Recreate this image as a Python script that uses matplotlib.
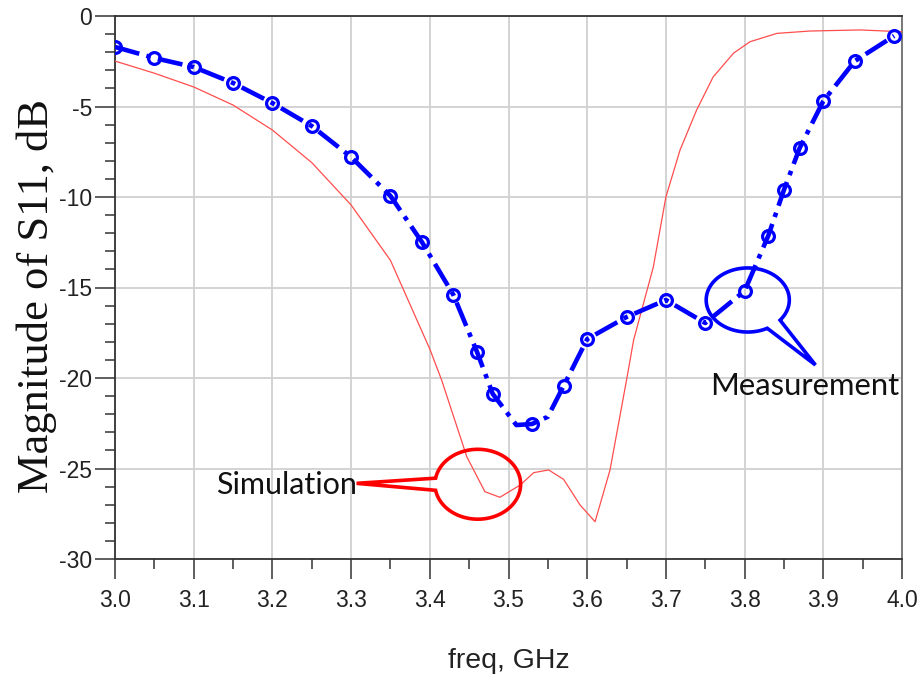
import numpy as np
import matplotlib
matplotlib.use("Agg")
import matplotlib.pyplot as plt
from matplotlib.path import Path
from matplotlib.patches import PathPatch
from matplotlib.ticker import MultipleLocator

plt.rcParams['axes.unicode_minus'] = False

# ---------------- data ----------------
# Measurement (blue, dash-dot with circle markers)
meas_freq = [3.00, 3.05, 3.10, 3.15, 3.20, 3.25, 3.30, 3.35, 3.39, 3.43,
             3.46, 3.48, 3.51, 3.53, 3.55, 3.57, 3.60, 3.65, 3.70, 3.75,
             3.80, 3.83, 3.85, 3.87, 3.90, 3.94, 3.99]
meas_s11 = [-1.71, -2.32, -2.82, -3.70, -4.81, -6.08, -7.79, -9.94, -12.49, -15.41,
            -18.56, -20.88, -22.60, -22.54, -22.14, -20.44, -17.85, -16.63, -15.69, -16.96,
            -15.19, -12.15, -9.61, -7.29, -4.70, -2.49, -1.10]
meas_has_marker = [1, 1, 1, 1, 1, 1, 1, 1, 1, 1,
                   1, 1, 0, 1, 0, 1, 1, 1, 1, 1,
                   1, 1, 1, 1, 1, 1, 1]

# Simulation (red thin line)
sim_freq = [3.00, 3.05, 3.10, 3.15, 3.20, 3.25, 3.30, 3.35, 3.40, 3.415,
            3.447, 3.470, 3.489, 3.515, 3.532, 3.551, 3.570, 3.591, 3.610, 3.629,
            3.650, 3.659, 3.684, 3.700, 3.718, 3.739, 3.760, 3.786, 3.807, 3.841,
            3.883, 3.947, 4.00]
sim_s11 = [-2.49, -3.16, -3.92, -4.92, -6.30, -8.10, -10.44, -13.50, -18.40, -20.11,
           -24.35, -26.28, -26.59, -25.91, -25.23, -25.08, -25.60, -27.02, -27.94, -25.08,
           -20.11, -17.90, -13.87, -10.00, -7.40, -5.20, -3.37, -2.05, -1.42, -0.96,
           -0.83, -0.77, -0.87]

x_ticks = [3.0, 3.1, 3.2, 3.3, 3.4, 3.5, 3.6, 3.7, 3.8, 3.9, 4.0]
y_ticks = [0, -5, -10, -15, -20, -25, -30]

# ---------------- figure ----------------
W, H = 922, 680
fig = plt.figure(figsize=(W / 100, H / 100), dpi=100)
ax = fig.add_axes([115 / W, 1 - 559 / H, (902 - 115) / W, (559 - 16) / H])

ax.set_xlim(3.0, 4.0)
ax.set_ylim(-30, 0)

ax.grid(True, which='major', color='#d0d0d0', linewidth=1.3, zorder=0)
ax.set_axisbelow(True)

ax.plot(sim_freq, sim_s11, color='#ff4d4d', linewidth=0.9, zorder=3)

mark_idx = [i for i, m in enumerate(meas_has_marker) if m]
ax.plot(meas_freq, meas_s11, color='#0000ff', linewidth=3.3,
        linestyle=(0, (5.5, 1.6, 1.0, 1.6)),
        marker='o', markevery=mark_idx, markersize=8.5, markerfacecolor='none',
        markeredgecolor='#0000ff', markeredgewidth=2.3, zorder=4)

ax.set_xticks(x_ticks)
ax.set_xticklabels([f"{v:.1f}" for v in x_ticks])
ax.set_yticks(y_ticks)
ax.set_yticklabels([str(v) for v in y_ticks])
ax.xaxis.set_minor_locator(MultipleLocator(0.05))
ax.yaxis.set_minor_locator(MultipleLocator(1))

ax.tick_params(which='major', direction='out', length=14.5, width=1.1, color='#333333',
               labelsize=16.5, labelcolor='#222222')
ax.tick_params(which='minor', direction='out', length=7.5, width=1.1, color='#333333')
ax.tick_params(axis='x', which='major', pad=7)
ax.tick_params(axis='y', which='major', pad=2)
for lab in ax.get_xticklabels() + ax.get_yticklabels():
    lab.set_family('Liberation Sans')

for side in ['left', 'bottom', 'top']:
    ax.spines[side].set_color('#333333')
    ax.spines[side].set_linewidth(1.3)
ax.spines['right'].set_color('#707070')
ax.spines['right'].set_linewidth(1.3)

# axis labels
fig.text(509 / W, 1 - 668 / H, 'freq, GHz', ha='center', va='baseline',
         fontsize=20.5, family='Liberation Sans', color='#222222')
fig.text(37 / W, 1 - 296 / H, 'Magnitude of S11, dB', ha='center', va='center',
         rotation=90, fontsize=32, family='Liberation Serif', color='#111111')


# speech bubbles
def bubble(cx, cy, a, b, t_start, t_end, tip, color):
    ts = np.radians(np.linspace(t_start, t_end, 200))
    pts = [(cx + a * np.cos(t), cy + b * np.sin(t)) for t in ts]
    pts.append(tip)
    pts.append(pts[0])
    codes = [Path.MOVETO] + [Path.LINETO] * (len(pts) - 2) + [Path.CLOSEPOLY]
    patch = PathPatch(Path(pts, codes), facecolor='none', edgecolor=color,
                      linewidth=2.6, joinstyle='miter', zorder=5, clip_on=False)
    ax.add_patch(patch)


bubble(3.461, -25.87, 0.0544, 1.93, -170, 170, (3.307, -25.82), '#ff0000')
bubble(3.804, -15.69, 0.0528, 1.77, -39, 298, (3.890, -19.28), '#0000ff')

ax.text(3.128, -26.41, 'Simulation', ha='left', va='baseline', fontsize=22,
        family='Lato', color='#111111', zorder=6)
ax.text(3.756, -20.94, 'Measurement', ha='left', va='baseline', fontsize=22.3,
        family='Lato', color='#111111', zorder=6)

fig.savefig('out.png', dpi=100)
